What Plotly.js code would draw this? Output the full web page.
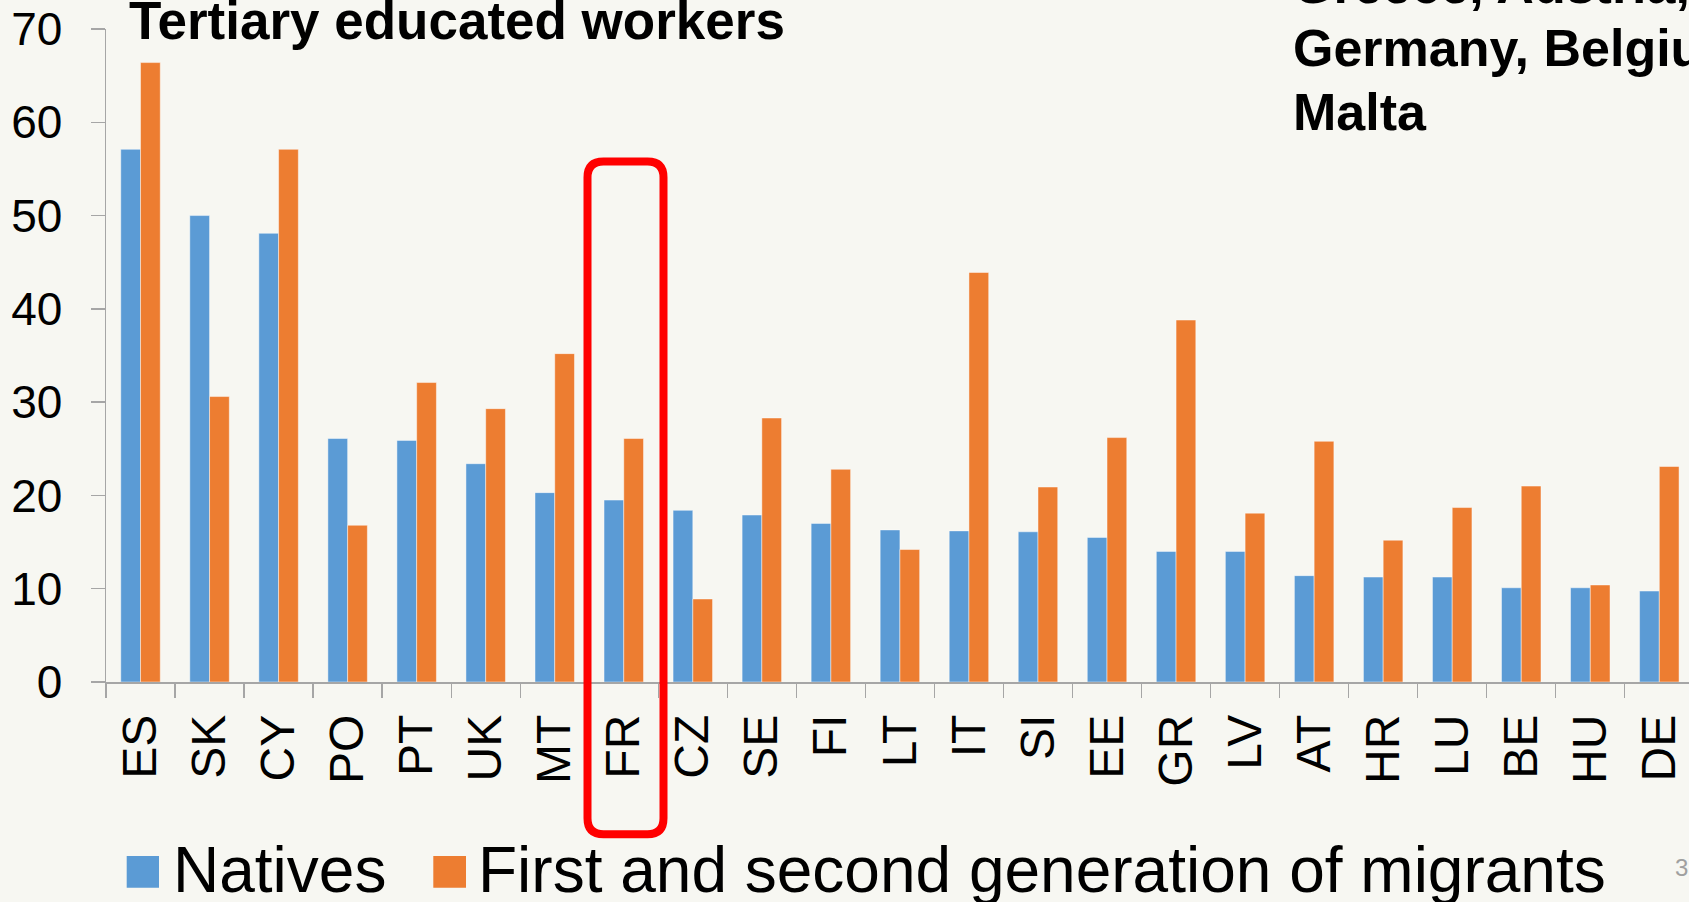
<!DOCTYPE html>
<html>
<head>
<meta charset="utf-8">
<script src="https://cdn.plot.ly/plotly-3.0.1.min.js"></script>
<style>
  html, body { margin: 0; padding: 0; background: #f7f7f2; }
  #chart { width: 1689px; height: 902px; }
</style>
</head>
<body>
<div id="chart"></div>
<script>
// ---- data ----
var countries = ["ES","SK","CY","PO","PT","UK","MT","FR","CZ","SE","FI","LT","IT","SI","EE","GR","LV","AT","HR","LU","BE","HU","DE"];
var natives  = [57.1, 50.0, 48.1, 26.1, 25.9, 23.4, 20.3, 19.5, 18.4, 17.9, 17.0, 16.3, 16.2, 16.1, 15.5, 14.0, 14.0, 11.4, 11.25, 11.25, 10.1, 10.1, 9.75];
var migrants = [66.4, 30.6, 57.1, 16.8, 32.1, 29.3, 35.2, 26.1, 8.9, 28.3, 22.8, 14.2, 43.9, 20.9, 26.2, 38.8, 18.1, 25.8, 15.2, 18.7, 21.0, 10.4, 23.1];
var seriesNames = ["Natives", "First and second generation of migrants"];
var yTicks = [0, 10, 20, 30, 40, 50, 60, 70];
var titleText = "Tertiary educated workers";
var sideLines = ["Greece, Austria,", "Germany, Belgium,", "Malta"];

// ---- layout helpers (pixel -> paper) ----
var W = 1689, H = 902;
var M = {l: 106, r: 0, t: 29, b: 220};
var PW = W - M.l - M.r, PH = H - M.t - M.b;
function px2x(px) { return (px - M.l) / PW; }
function px2y(py) { return (H - M.b - py) / PH; }

var blue = "#5b9bd5", orange = "#ed7d31";
var font = "Liberation Sans, Arial, sans-serif";

var traces = [
  {type: "bar", name: seriesNames[0], x: countries, y: natives,
   marker: {color: blue, line: {color: "rgba(255,255,255,0.45)", width: 1}}},
  {type: "bar", name: seriesNames[1], x: countries, y: migrants,
   marker: {color: orange, line: {color: "rgba(255,255,255,0.45)", width: 1}}}
];

// red rounded rectangle around FR
var L = 587.5, R = 663.5, T = 161.5, B = 834.2, r = 16;
function P(x, y) { return px2x(x).toFixed(5) + "," + px2y(y).toFixed(5); }
var boxPath = "M" + P(L + r, T) + " L" + P(R - r, T) + " Q" + P(R, T) + " " + P(R, T + r) +
  " L" + P(R, B - r) + " Q" + P(R, B) + " " + P(R - r, B) +
  " L" + P(L + r, B) + " Q" + P(L, B) + " " + P(L, B - r) +
  " L" + P(L, T + r) + " Q" + P(L, T) + " " + P(L + r, T) + " Z";

var shapes = [
  {type: "path", xref: "paper", yref: "paper", path: boxPath,
   line: {color: "#ff0000", width: 8}, layer: "above"},
  {type: "rect", xref: "paper", yref: "paper",
   x0: px2x(126.7), x1: px2x(159), y0: px2y(887.7), y1: px2y(856),
   fillcolor: blue, line: {width: 0}},
  {type: "rect", xref: "paper", yref: "paper",
   x0: px2x(433.3), x1: px2x(466), y0: px2y(887.7), y1: px2y(856),
   fillcolor: orange, line: {width: 0}}
];

var annotations = [
  {xref: "paper", yref: "paper", x: px2x(127), y: px2y(20), xanchor: "left", yanchor: "middle",
   text: "<b>" + titleText + "</b>", showarrow: false, font: {family: font, size: 53, color: "#000"}},
  {xref: "paper", yref: "paper", x: px2x(1291), y: px2y(-14.7), xanchor: "left", yanchor: "middle",
   text: "<b>" + sideLines[0] + "</b>", showarrow: false, font: {family: font, size: 52, color: "#000"}},
  {xref: "paper", yref: "paper", x: px2x(1291), y: px2y(48), xanchor: "left", yanchor: "middle",
   text: "<b>" + sideLines[1] + "</b>", showarrow: false, font: {family: font, size: 52, color: "#000"}},
  {xref: "paper", yref: "paper", x: px2x(1291), y: px2y(111.7), xanchor: "left", yanchor: "middle",
   text: "<b>" + sideLines[2] + "</b>", showarrow: false, font: {family: font, size: 52, color: "#000"}},
  {xref: "paper", yref: "paper", x: px2x(171), y: px2y(869.5), xanchor: "left", yanchor: "middle",
   text: seriesNames[0], showarrow: false, font: {family: font, size: 64, color: "#000"}},
  {xref: "paper", yref: "paper", x: px2x(476), y: px2y(869.5), xanchor: "left", yanchor: "middle",
   text: seriesNames[1], showarrow: false, font: {family: font, size: 64, color: "#000"}},
  {xref: "paper", yref: "paper", x: px2x(1673), y: px2y(868), xanchor: "left", yanchor: "middle",
   text: "3", showarrow: false, font: {family: font, size: 24, color: "#a0a0a0"}}
];

var layout = {
  width: W, height: H,
  margin: M,
  paper_bgcolor: "#f7f7f2",
  plot_bgcolor: "#f7f7f2",
  showlegend: false,
  barmode: "group",
  bargap: 0.428,
  bargroupgap: 0,
  font: {family: font, color: "#000"},
  xaxis: {
    type: "category",
    categoryorder: "array",
    categoryarray: countries,
    range: [-0.5, 22.43],
    tickson: "boundaries",
    ticks: "outside", ticklen: 14, tickwidth: 1.3, tickcolor: "#a6a6a6",
    showline: true, linecolor: "#a6a6a6", linewidth: 1.5,
    showgrid: false, zeroline: false,
    tickangle: -90,
    ticklabelstandoff: 12,
    tickfont: {family: font, size: 48, color: "#000"},
    fixedrange: true
  },
  yaxis: {
    range: [0, 70],
    tickmode: "array", tickvals: yTicks, ticktext: yTicks.map(String),
    ticks: "outside", ticklen: 14, tickwidth: 1.3, tickcolor: "#a6a6a6",
    showline: true, linecolor: "#a6a6a6", linewidth: 1.5,
    showgrid: false, zeroline: false,
    ticklabelstandoff: 19,
    tickfont: {family: font, size: 46, color: "#000"},
    fixedrange: true
  },
  shapes: shapes,
  annotations: annotations
};

Plotly.newPlot("chart", traces, layout, {displayModeBar: false, staticPlot: true});
</script>
</body>
</html>
